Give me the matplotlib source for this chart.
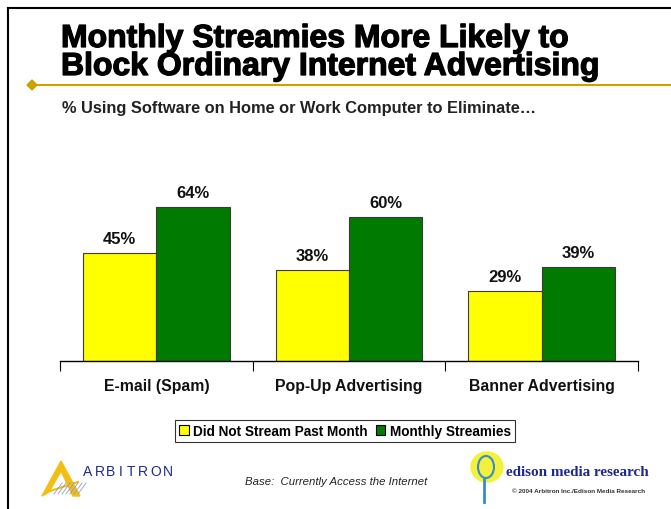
import matplotlib
matplotlib.use("Agg")
import matplotlib.pyplot as plt
import matplotlib.patheffects as pe
import numpy as np
from matplotlib.patches import Polygon, Rectangle, Ellipse
from matplotlib.lines import Line2D

plt.rcParams["font.family"] = ["Liberation Sans", "DejaVu Sans"]

categories = ["E-mail (Spam)", "Pop-Up Advertising", "Banner Advertising"]
series_names = ["Did Not Stream Past Month", "Monthly Streamies"]
did_not_stream = [45, 38, 29]
monthly_streamies = [64, 60, 39]

col_yellow = "#FFFF00"
col_green = "#007A00"
col_gold = "#C9A400"
navy = "#1B2A8C"

W, H = 671, 510
fig = plt.figure(figsize=(W / 100, H / 100), dpi=100, facecolor="white")


def fx(px):
    return px / W


def fy(py):
    return 1 - py / H


# slide frame
fig.add_artist(Line2D([fx(8), fx(8)], [fy(9), fy(510)], color="black", lw=1.5))
fig.add_artist(Line2D([fx(8), fx(671)], [fy(9), fy(9)], color="black", lw=1.5))

# title
heavy = [pe.withStroke(linewidth=0.9, foreground="black")]
fig.text(fx(61), fy(40), "Monthly Streamies More Likely to", fontsize=23,
         fontweight="bold", va="center", ha="left", color="black", path_effects=heavy)
fig.text(fx(61), fy(68), "Block Ordinary Internet Advertising", fontsize=23,
         fontweight="bold", va="center", ha="left", color="black", path_effects=heavy)

# gold rule with diamond
fig.add_artist(Line2D([fx(32), fx(671)], [fy(86), fy(86)], color=col_gold, lw=1.5))
fig.add_artist(Polygon([[fx(27), fy(86)], [fx(32), fy(81)], [fx(37), fy(86)], [fx(32), fy(91)]],
                       closed=True, transform=fig.transFigure, color=col_gold))

fig.text(fx(62), fy(108), "% Using Software on Home or Work Computer to Eliminate\u2026",
         fontsize=11.8, fontweight="bold", va="center", ha="left", color="#222222")

# chart
ax_left, ax_right, ax_base, ax_top = 60, 638, 362, 170
ax = fig.add_axes([fx(ax_left), fy(ax_base), fx(ax_right - ax_left), (ax_base - ax_top) / H])
ax.set_facecolor("none")
x = np.arange(len(categories))
w = 0.38
b1 = ax.bar(x - w / 2, did_not_stream, w, color=col_yellow, edgecolor="#3a3a3a", linewidth=0.8,
            label=series_names[0])
b2 = ax.bar(x + w / 2, monthly_streamies, w, color=col_green, edgecolor="#3a3a3a", linewidth=0.8,
            label=series_names[1])
ax.set_xlim(-0.5, len(categories) - 0.5)
ax.set_ylim(0, 80)
for bars, vals in ((b1, did_not_stream), (b2, monthly_streamies)):
    for bar, v in zip(bars, vals):
        ax.text(bar.get_x() + bar.get_width() / 2, v + 3.0, f"{v}%", ha="center", va="bottom",
                fontsize=12, fontweight="bold", color="#111111")

for s in ("top", "right", "left"):
    ax.spines[s].set_visible(False)
ax.spines["bottom"].set_color("black")
ax.spines["bottom"].set_linewidth(1.0)
ax.set_yticks([])
ax.set_xticks(np.arange(len(categories) + 1) - 0.5, minor=False)
ax.set_xticklabels([])
ax.tick_params(axis="x", direction="out", length=7, width=0.8, color="black")
for i, c in enumerate(categories):
    ax.text(i, -10, c, ha="center", va="center", fontsize=11.4, fontweight="bold",
            color="#111111")

# legend
leg = fig.legend(handles=[Rectangle((0, 0), 1, 1, facecolor=col_yellow, edgecolor="black", lw=0.8),
                          Rectangle((0, 0), 1, 1, facecolor=col_green, edgecolor="black", lw=0.8)],
                 labels=series_names, loc="center", bbox_to_anchor=(fx(345), fy(432)),
                 ncol=2, frameon=True, fancybox=False, edgecolor="black",
                 prop={"weight": "bold", "size": 9.8}, handlelength=0.7, handleheight=0.7,
                 handletextpad=0.3, columnspacing=0.6, borderpad=0.3, borderaxespad=0)
leg.get_frame().set_linewidth(0.8)

# Arbitron mark
fig.add_artist(Polygon([[fx(42), fy(497)], [fx(61), fy(462)], [fx(80), fy(497)],
                        [fx(73), fy(497)], [fx(61), fy(472)], [fx(49), fy(493)]],
                       closed=True, transform=fig.transFigure, color="#F2BE12"))
fig.add_artist(Line2D([fx(47), fx(78)], [fy(493), fy(483)], color="#F2BE12", lw=1.5))
for k in range(7):
    fig.add_artist(Line2D([fx(54 + k * 4), fx(62 + k * 4)], [fy(495), fy(484)],
                          color="#8C9BD8", lw=0.6))
letters = ["A", "R", "B", "I", "T", "R", "O", "N"]
centers = [87.5, 99.5, 111, 121, 131, 143, 155.5, 167.5]
for ch, cx in zip(letters, centers):
    fig.text(fx(cx), fy(472), ch, fontsize=10, color=navy, va="center", ha="center")

fig.text(fx(245), fy(482), "Base:  Currently Access the Internet", fontsize=8.2,
         style="italic", color="#222222", va="center", ha="left")

# Edison mark
fig.add_artist(Ellipse((fx(487), fy(468)), fx(32), 30 / H, transform=fig.transFigure,
                       color="#F2F23C"))
fig.add_artist(Ellipse((fx(486), fy(468)), fx(16), 22 / H, transform=fig.transFigure,
                       facecolor="none", edgecolor="#3A8CC8", lw=1.5))
fig.add_artist(Line2D([fx(484), fx(484)], [fy(480), fy(503)], color="#3A8CC8", lw=2))
fig.text(fx(506), fy(472), "edison media research", fontsize=10.9, fontweight="bold",
         family="Liberation Serif", color=navy, va="center", ha="left")
fig.text(fx(512), fy(492), "\u00a9 2004 Arbitron Inc./Edison Media Research", fontsize=4.6,
         fontweight="bold", color="#333333", va="center", ha="left")

fig.savefig("out.png", dpi=100, facecolor="white")
